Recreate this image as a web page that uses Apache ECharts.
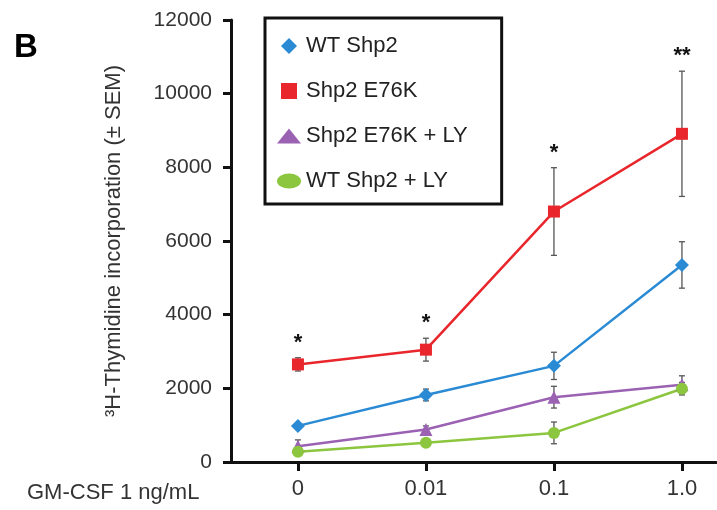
<!DOCTYPE html>
<html>
<head>
<meta charset="utf-8">
<script src="https://cdn.jsdelivr.net/npm/echarts@6/dist/echarts.min.js"></script>
<style>html,body{margin:0;padding:0;background:#fff}#main{width:717px;height:510px}</style>
</head>
<body>
<div id="main"></div>
<script>
var doses = ['0', '0.01', '0.1', '1.0'];
var wtShp2 = [980, 1820, 2610, 5350];
var wtShp2Err = [80, 160, 370, 630];
var e76k = [2650, 3050, 6800, 8910];
var e76kErr = [180, 310, 1190, 1700];
var e76kLy = [430, 880, 1760, 2100];
var e76kLyErr = [170, 100, 295, 240];
var wtLy = [280, 520, 790, 1990];
var wtLyErr = [60, 80, 295, 170];
var sigMarks = ['*', '*', '*', '**'];

var myChart = echarts.init(document.getElementById('main'));

function pts(vals) {
    return vals.map(function (v, i) { return [i, v]; });
}

// error bars, all groups together: [x, mean, sem]
var errData = [];
[[wtShp2, wtShp2Err], [e76k, e76kErr], [e76kLy, e76kLyErr], [wtLy, wtLyErr]].forEach(function (g) {
    g[0].forEach(function (v, i) { errData.push([i, v, g[1][i]]); });
});

var sigData = e76k.map(function (v, i) { return [i, v + e76kErr[i], sigMarks[i]]; });

var font = 'Liberation Sans';

option = {
    backgroundColor: '#fff',
    animation: false,
    grid: {
        left: 231,
        right: 1,
        top: 20,
        bottom: 48
    },
    graphic: [{
        type: 'text',
        left: 14,
        top: 31,
        style: { text: 'B', font: 'bold 33px "Liberation Sans"', fill: '#000' }
    }, {
        type: 'text',
        left: 27,
        top: 482,
        style: { text: 'GM-CSF 1 ng/mL', font: '22px "Liberation Sans"', fill: '#333' }
    }],
    legend: {
        orient: 'vertical',
        left: 265,
        top: 18,
        padding: [17, 34, 12, 12],
        itemGap: 23,
        itemWidth: 24,
        itemHeight: 16,
        borderColor: '#111',
        borderWidth: 3,
        textStyle: { fontFamily: font, fontSize: 22, color: '#222' },
        data: [
            { name: 'WT Shp2', icon: 'path://M8,0L16,8L8,16L0,8Z' },
            { name: 'Shp2 E76K', icon: 'path://M0,0L14,0L14,14L0,14Z' },
            { name: 'Shp2 E76K + LY', icon: 'path://M12,0L24,15L0,15Z' },
            { name: 'WT Shp2 + LY', icon: 'path://M0,7.5A12,7.5 0 1 1 24,7.5A12,7.5 0 1 1 0,7.5Z' }
        ]
    },
    xAxis: {
        type: 'value',
        min: -0.523,
        max: 3.266,
        axisLine: { onZero: false, lineStyle: { color: '#111', width: 3 } },
        axisTick: { show: true, customValues: [0, 1, 2, 3], length: 9, lineStyle: { color: '#111', width: 3 } },
        axisLabel: {
            customValues: [0, 1, 2, 3],
            margin: 16,
            fontFamily: font,
            fontSize: 22,
            color: '#333',
            formatter: function (v) { return doses[Math.round(v)]; }
        },
        splitLine: { show: false }
    },
    yAxis: {
        type: 'value',
        min: 0,
        max: 12000,
        interval: 2000,
        name: '\u00b3H-Thymidine incorporation (\u00b1 SEM)',
        nameLocation: 'middle',
        nameGap: 106,
        nameMoveOverlap: false,
        nameTextStyle: { fontFamily: font, fontSize: 22, color: '#333' },
        axisLine: { show: true, onZero: false, lineStyle: { color: '#111', width: 3 } },
        axisTick: { show: true, length: 8, lineStyle: { color: '#111', width: 3 } },
        axisLabel: {
            margin: 19,
            fontFamily: font,
            fontSize: 21,
            color: '#333',
            formatter: function (v) { return String(v); }
        },
        splitLine: { show: false }
    },
    series: [{
            name: 'err',
            type: 'custom',
            z: 1,
            data: errData,
            renderItem: function (params, api) {
                var x = api.value(0), m = api.value(1), e = api.value(2);
                var top = api.coord([x, m + e]);
                var bot = api.coord([x, m - e]);
                var st = { stroke: '#555', lineWidth: 1.3 };
                return {
                    type: 'group',
                    children: [
                        { type: 'line', shape: { x1: top[0], y1: top[1], x2: bot[0], y2: bot[1] }, style: st },
                        { type: 'line', shape: { x1: top[0] - 3, y1: top[1], x2: top[0] + 3, y2: top[1] }, style: st },
                        { type: 'line', shape: { x1: bot[0] - 3, y1: bot[1], x2: bot[0] + 3, y2: bot[1] }, style: st }
                    ]
                };
            }
        }, {
            name: 'sig',
            type: 'custom',
            z: 1,
            data: sigData,
            renderItem: function (params, api) {
                var p = api.coord([api.value(0), api.value(1)]);
                return {
                    type: 'text',
                    x: p[0],
                    y: p[1] - 4,
                    style: {
                        text: sigData[params.dataIndex][2],
                        font: 'bold 22px "Liberation Sans"',
                        fill: '#111',
                        align: 'center',
                        verticalAlign: 'bottom'
                    }
                };
            }
        }, {
            name: 'WT Shp2',
            type: 'line',
            z: 3,
            data: pts(wtShp2),
            symbol: 'diamond',
            symbolSize: 14,
            itemStyle: { color: '#2a8bd4' },
            lineStyle: { color: '#2a8bd4', width: 2.5 }
        }, {
            name: 'Shp2 E76K',
            type: 'line',
            z: 3,
            data: pts(e76k),
            symbol: 'rect',
            symbolSize: 12,
            itemStyle: { color: '#e8262b' },
            lineStyle: { color: '#e8262b', width: 2.5 }
        }, {
            name: 'Shp2 E76K + LY',
            type: 'line',
            z: 3,
            data: pts(e76kLy),
            symbol: 'triangle',
            symbolSize: 13,
            itemStyle: { color: '#9b62b4' },
            lineStyle: { color: '#9b62b4', width: 2.5 }
        }, {
            name: 'WT Shp2 + LY',
            type: 'line',
            z: 3,
            data: pts(wtLy),
            symbol: 'circle',
            symbolSize: 12,
            itemStyle: { color: '#8cc63f' },
            lineStyle: { color: '#8cc63f', width: 2.5 }
        }
    ]
};
myChart.setOption(option);
</script>
</body>
</html>
